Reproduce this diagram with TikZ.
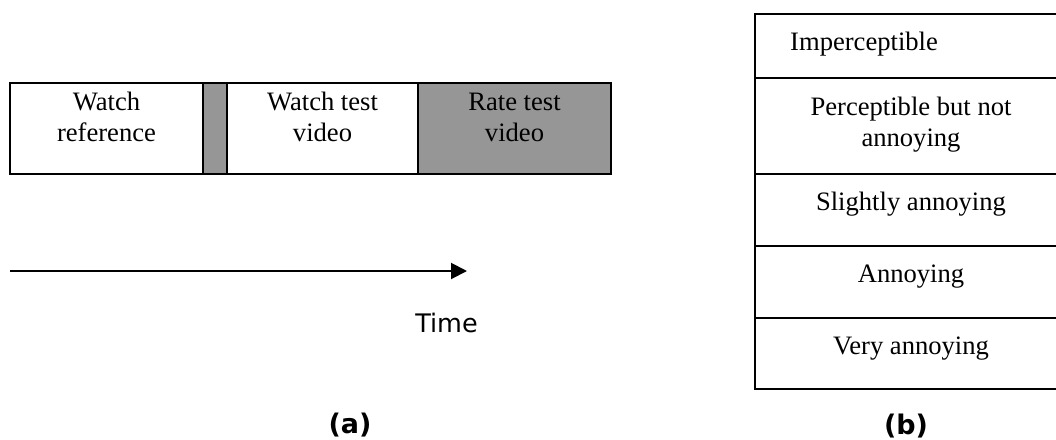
\documentclass[tikz,border=0pt]{standalone}
\usepackage{fontspec}
\setmainfont{Liberation Serif}
\newfontfamily\capsans{DejaVu Sans}
\usetikzlibrary{arrows.meta}
\definecolor{cellgray}{RGB}{150,150,150}
\begin{document}
\begin{tikzpicture}[x=1pt,y=-1pt,
  cell/.style={draw=black, line width=2pt, rectangle, anchor=north west,
               inner sep=0pt, outer sep=0pt},
  shaded/.style={cell, fill=cellgray},
  celltext/.style={font=\fontsize{26.6}{31}\selectfont, align=center,
                   anchor=base, inner sep=0pt},
  timelabel/.style={font=\capsans\fontsize{25.5}{30}\selectfont,
                    anchor=base, inner sep=0pt},
  sublabel/.style={font=\capsans\bfseries\fontsize{27}{32}\selectfont,
                   anchor=base, inner sep=0pt},
  timeline/.style={line width=2pt, -{Triangle[length=16pt,width=16pt]}}]
\useasboundingbox (0,0) rectangle (1056,439);
\clip (0,0) rectangle (1056,439);

% (a) sequence of one trial; two-line texts are placed by their last baseline
\node[cell,   minimum width=193, minimum height=91] (ref)   at (10,83)  {};
\node[shaded, minimum width=24,  minimum height=91] (pause) at (203,83) {};
\node[cell,   minimum width=191, minimum height=91] (test)  at (227,83) {};
\node[shaded, minimum width=193, minimum height=91] (rate)  at (418,83) {};
\node[celltext] (reftext)  at ([yshift=-58pt]ref.north)  {Watch\\reference};
\node[celltext] (testtext) at ([yshift=-58pt]test.north) {Watch test\\video};
\node[celltext] (ratetext) at ([yshift=-58pt]rate.north) {Rate test\\video};

\coordinate (tstart) at (10,271);
\coordinate (tend)   at (467,271);
\draw[timeline] (tstart) -- (tend);
\node[timelabel] (time) at (446.5,332) {Time};
\node[sublabel] (capa) at (350,433) {(a)};

% (b) impairment scale
\node[cell, minimum width=312, minimum height=64] (s1) at (755,14)  {};
\node[cell, minimum width=312, minimum height=96] (s2) at (755,78)  {};
\node[cell, minimum width=312, minimum height=72] (s3) at (755,174) {};
\node[cell, minimum width=312, minimum height=72] (s4) at (755,246) {};
\node[cell, minimum width=312, minimum height=71] (s5) at (755,318) {};
\node[celltext, anchor=base west] (t1) at (790,50) {Imperceptible};
\node[celltext] (t2) at ([yshift=-68pt]s2.north) {Perceptible but not\\annoying};
\node[celltext] (t3) at ([yshift=-36pt]s3.north) {Slightly annoying};
\node[celltext] (t4) at ([yshift=-36pt]s4.north) {Annoying};
\node[celltext] (t5) at ([yshift=-36pt]s5.north) {Very annoying};
\node[sublabel] (capb) at (906,434) {(b)};
\end{tikzpicture}
\end{document}
